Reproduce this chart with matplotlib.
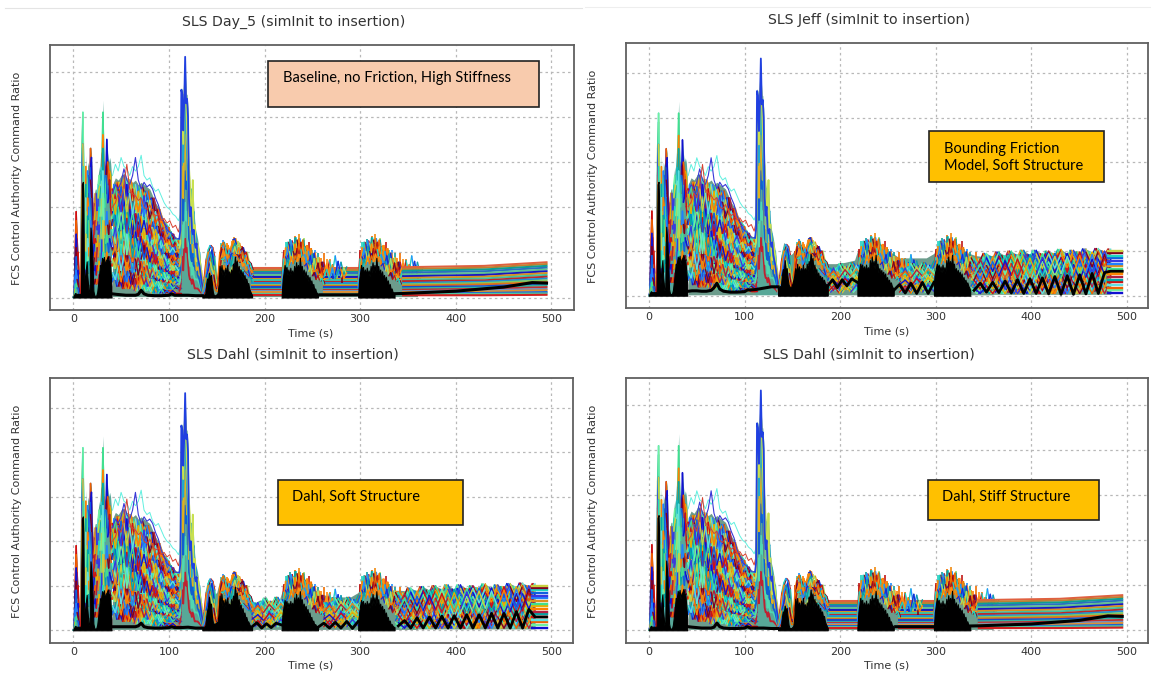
import matplotlib
matplotlib.use("Agg")
import matplotlib.pyplot as plt
from matplotlib.collections import LineCollection
from matplotlib.patches import Rectangle

# ----------------------------------------------- TEXT -------------------------------------------------#
TITLES = ["SLS Day_5 (simInit to insertion)", "SLS Jeff (simInit to insertion)",
          "SLS Dahl (simInit to insertion)", "SLS Dahl (simInit to insertion)"]
NOTES = ["Baseline, no Friction, High Stiffness", "Bounding Friction\nModel, Soft Structure",
         "Dahl, Soft Structure", "Dahl, Stiff Structure"]
X_TICKS = [0, 100, 200, 300, 400, 500]
Y_GRID = [0, 1, 2, 3, 4, 5]

RUN_COLORS = ['#1010d0', '#ff8000', '#20d8c0', '#d01010', '#2080ff', '#70f0a0', '#e8b000', '#800020',
              '#00a8a8', '#3838e0', '#f06000', '#40e090', '#c8d040', '#b02040', '#1060e0', '#60e0e0', '#e09020']
BURST_COLORS = ['#c01818', '#ff8000', '#1030d8', '#20d0c0', '#f07000', '#a8e060', '#2090ff', '#ff9010', '#800020', '#10a0a0', '#f08a10']

# ----------------------------------------------- SHARED RUNS, 0 TO 40 s -------------------------------------------------#
SPIKE_T = list(range(41))
SPIKE_TOP = [0, .1, 1.2, 2.05, 1.4, 1.0, .6, .1, .1, 3.5, 4.15, 3.0, 2.0, 3.15, 2.0, 3.0, 2.9, 2.5, 3.35, 3.2, 2.5,
             1.9, 2.3, 2.4, 2.4, 2.1, 2.7, 2.9, 2.6, 3.0, 3.5, 4.37, 3.3, 2.9, 3.0, 3.55, 3.2, 3.0, 3.1, 3.0, 2.7]
SPIKE_RUNS = [
    [0, .1, 1.1, 1.9, 1.2, .8, .4, .1, .1, 3.3, 3.9, 2.6, 1.5, 2.9, 1.7, 2.8, 2.3, 2.1, 3.3, 2.9, 2.2,
     1.5, 2.1, 2.3, 2.2, 1.8, 2.5, 2.7, 2.2, 2.8, 3.2, 4.1, 3.0, 2.2, 2.7, 3.5, 2.9, 2.5, 2.8, 2.7, 2.4],
    [0, .05, .9, 1.7, 1.3, .7, .3, .1, .1, 3.0, 4.1, 2.8, 1.2, 2.5, 1.3, 2.6, 2.7, 1.7, 2.9, 3.1, 1.8,
     1.2, 1.7, 2.0, 2.3, 1.5, 2.2, 2.4, 2.5, 2.5, 2.9, 3.6, 2.7, 2.7, 2.3, 2.9, 3.0, 2.8, 2.4, 2.3, 2.2],
    [0, .05, .7, 1.4, .9, 1.0, .5, .05, .1, 2.7, 3.4, 2.0, 1.0, 2.2, 1.6, 2.2, 2.0, 1.4, 2.6, 2.3, 1.5,
     1.6, 1.4, 1.7, 1.6, 1.9, 1.7, 2.0, 1.8, 2.0, 2.6, 3.3, 2.2, 2.0, 2.7, 2.5, 2.1, 2.2, 2.6, 2.0, 1.8],
    [0, .05, .5, 1.1, .7, .5, .2, .05, .05, 2.3, 2.9, 1.7, .7, 1.9, 1.0, 1.8, 1.7, 1.0, 2.2, 1.8, 1.2,
     .9, 1.2, 1.3, 1.2, 1.0, 1.4, 1.6, 1.3, 1.5, 2.2, 2.8, 1.7, 1.4, 1.6, 1.9, 1.6, 1.4, 1.7, 1.6, 1.5],
    [0, .03, .3, .9, .5, .6, .1, .05, .05, 1.8, 2.4, 1.3, .5, 1.4, .8, 1.3, 1.1, .7, 1.7, 1.3, .8,
     .6, .9, 1.0, .8, 1.1, .9, 1.2, 1.0, 1.1, 1.8, 2.3, 1.3, 1.0, 1.2, 1.4, 1.2, 1.0, 1.3, 1.2, 1.1],
    [0, .03, .2, .6, .4, .3, .1, .03, .05, 1.3, 1.8, .9, .3, 1.0, .5, .9, .8, .5, 1.2, .9, .5,
     .4, .6, .7, .5, .7, .6, .8, .7, .7, 1.3, 1.7, .9, .7, .8, 1.0, .8, .7, .9, .8, .8],
    [0, .02, .1, .3, .2, .2, .05, .02, .03, .8, 1.2, .5, .2, .6, .3, .5, .5, .3, .7, .5, .3,
     .2, .3, .4, .3, .4, .3, .5, .4, .4, .8, 1.0, .5, .4, .5, .6, .5, .4, .5, .5, .4],
]

# ----------------------------------------------- SHARED RUNS, 41 TO 113 s -------------------------------------------------#
DECAY_T = [41, 44, 47, 50, 53, 56, 59, 62, 65, 68, 71, 74, 77, 80, 83, 86, 89, 92, 95, 98, 101, 104, 107, 110, 113]
DECAY_T_B = [40.5, 42.5, 45.5, 48, 51.5, 54, 57.5, 60, 63.5, 66, 69.5, 72, 75.5, 78, 81.5, 84, 87.5, 90, 93.5, 96, 99.5, 102, 105.5, 108, 112]
DECAY_T_C = [40, 43, 46, 49, 52, 55, 57, 61, 64, 67, 70, 73, 76, 79, 82, 85, 88, 91, 94, 97, 100, 103, 106, 109, 111]
DECAY_T_D = [41.5, 45, 48.5, 51, 54.5, 58, 60.5, 64, 66.5, 70, 72.5, 76, 78.5, 82, 84.5, 88, 90.5, 94, 96.5, 100, 102.5, 105, 108.5, 111, 112.5]
DECAY_TOP = [2.5, 2.65, 2.6, 2.7, 2.75, 2.65, 2.6, 2.55, 2.6, 2.5, 2.55, 2.5, 2.45, 2.4, 2.25, 2.1, 2.0,
             1.85, 1.7, 1.6, 1.5, 1.4, 1.35, 1.3, 1.3]
OUTLIER_CYAN = [2.7, 2.95, 2.8, 3.1, 2.9, 2.85, 2.7, 2.9, 2.8, 2.9, 3.15, 2.7, 2.6, 2.65, 2.45, 2.35, 2.4,
                2.25, 2.1, 2.0, 1.95, 1.85, 1.8, 1.7, 1.9]
OUTLIER_BLUE = [2.3, 2.5, 2.4, 2.55, 2.85, 2.6, 2.5, 2.7, 3.1, 2.6, 2.4, 2.55, 2.45, 2.5, 2.4, 2.2, 2.05,
                1.8, 1.65, 1.5, 1.45, 1.4, 1.3, 1.3, 1.35]
OUTLIER_RED = [2.0, 2.1, 2.3, 2.2, 2.5, 2.95, 2.4, 2.3, 2.25, 2.15, 2.2, 2.0, 1.95, 2.05, 1.9, 1.8, 1.85,
               1.7, 1.75, 1.65, 1.7, 1.55, 1.6, 1.45, 1.75]
DECAY_RUNS = [
    [2.4, 2.2, 2.55, 2.3, 2.7, 2.25, 2.6, 2.15, 2.5, 2.1, 2.45, 2.2, 2.35, 2.0, 2.2, 1.85, 1.95, 1.7, 1.65, 1.55, 1.4, 1.35, 1.25, 1.3, 1.2],
    [.7, .9, .55, .85, .5, .8, .5, .75, .45, .7, .45, .6, .4, .55, .4, .5, .35, .45, .35, .4, .3, .4, .3, .35, .3],
    [1.9, 1.7, 2.2, 1.75, 2.25, 1.7, 2.2, 1.65, 2.1, 1.7, 2.0, 1.55, 1.9, 1.5, 1.8, 1.4, 1.6, 1.3, 1.45, 1.2, 1.3, 1.1, 1.2, 1.0, 1.1],
    [1.1, .9, 1.3, .85, 1.25, .8, 1.2, .8, 1.1, .75, 1.0, .7, .95, .65, .85, .6, .8, .55, .7, .55, .65, .5, .6, .5, .55],
    [1.6, 1.9, 1.35, 1.8, 1.3, 1.75, 1.3, 1.7, 1.25, 1.6, 1.2, 1.5, 1.15, 1.4, 1.05, 1.3, 1.0, 1.15, .9, 1.05, .85, .95, .8, .9, .85],
    [.35, .5, .25, .45, .2, .4, .2, .35, .15, .35, .15, .3, .15, .25, .1, .25, .1, .2, .1, .15, .1, .15, .1, .1, .1],
    [2.1, 2.5, 1.95, 2.45, 2.0, 2.5, 1.9, 2.4, 1.95, 2.35, 1.85, 2.25, 1.8, 2.15, 1.7, 1.9, 1.6, 1.7, 1.5, 1.55, 1.3, 1.4, 1.15, 1.25, 1.1],
    [.95, 1.15, .75, 1.05, .7, 1.0, .65, .95, .65, .9, .6, .8, .55, .75, .5, .7, .5, .6, .45, .55, .4, .5, .4, .45, .4],
    [2.2, 1.6, 2.0, 1.5, 2.0, 1.45, 1.95, 1.4, 1.85, 1.35, 1.8, 1.3, 1.65, 1.25, 1.55, 1.2, 1.4, 1.1, 1.25, 1.0, 1.15, .95, 1.05, .9, 1.0],
    [.55, .4, .7, .35, .65, .35, .6, .3, .55, .3, .5, .3, .45, .25, .4, .25, .35, .2, .3, .2, .3, .2, .25, .2, .2],
    [1.5, 1.2, 1.65, 1.2, 1.6, 1.15, 1.55, 1.1, 1.45, 1.05, 1.35, 1.0, 1.25, .95, 1.15, .85, 1.05, .8, .95, .75, .85, .7, .8, .7, .75],
    [.85, .65, 1.0, .6, .95, .6, .9, .55, .85, .5, .8, .5, .7, .45, .65, .45, .6, .4, .55, .35, .5, .35, .45, .35, .45],
    [1.75, 2.05, 1.55, 1.95, 1.6, 2.05, 1.55, 1.9, 1.5, 1.85, 1.45, 1.7, 1.4, 1.6, 1.3, 1.5, 1.2, 1.35, 1.15, 1.2, 1.0, 1.1, 1.0, 1.05, .95],
    [1.25, 1.55, 1.05, 1.45, 1.0, 1.4, .95, 1.3, .9, 1.25, .85, 1.15, .85, 1.05, .75, .95, .7, .85, .65, .8, .6, .7, .6, .65, .6],
    [1.35, 1.05, 1.45, .95, 1.5, .95, 1.4, .9, 1.3, .9, 1.2, .85, 1.1, .8, 1.0, .75, .9, .7, .85, .65, .75, .6, .7, .6, .65],
    [2.3, 1.85, 2.35, 1.9, 2.4, 1.9, 2.3, 1.85, 2.2, 1.9, 2.2, 1.8, 2.1, 1.75, 1.95, 1.65, 1.75, 1.5, 1.55, 1.35, 1.45, 1.2, 1.3, 1.15, 1.2],
]

# ----------------------------------------------- SHARED RUNS, 111 TO 136 s -------------------------------------------------#
PEAK_T = [111, 112, 113, 114, 115, 116, 117, 118, 119, 120, 121, 122, 123, 124, 125, 126, 127, 128, 129, 130, 132, 134, 136]
PEAK_TOP = [1.6, 1.9, 4.65, 4.6, 4.0, 4.5, 5.33, 4.5, 4.5, 4.2, 3.0, 2.5, 2.4, 2.0, 2.6, 2.0, 1.7, 1.5, 1.4, 1.3, 1.0, .6, .15]
PEAK_RUNS = [
    [1.3, 1.5, 4.6, 4.5, 3.7, 4.3, 5.33, 4.3, 4.4, 4.0, 2.2, 1.8, 2.0, 1.5, 1.4, 1.5, 1.2, 1.1, 1.2, .9, .7, .4, .1],
    [1.1, 1.2, 3.8, 4.4, 3.4, 4.5, 4.8, 4.5, 3.7, 3.1, 2.9, 2.5, 1.5, 2.0, 2.6, 1.2, 1.6, 1.0, .8, 1.2, .9, .5, .1],
    [.9, 1.0, 3.0, 3.6, 3.0, 3.8, 4.2, 3.8, 3.2, 2.5, 2.3, 1.6, 2.4, 1.2, 1.8, 1.9, .9, 1.4, 1.0, .7, 1.0, .3, .1],
    [.7, .8, 2.5, 2.9, 2.2, 3.3, 3.6, 3.0, 2.6, 3.4, 1.6, 2.0, 1.2, 1.6, 1.0, 1.0, 1.2, .8, .6, .9, .5, .6, .1],
    [.5, .6, 1.8, 2.3, 1.7, 2.6, 2.8, 2.4, 2.9, 2.0, 1.3, 1.2, .9, .8, 1.2, .7, .7, .6, .8, .5, .4, .2, .05],
    [.3, .4, 1.2, 1.6, 1.1, 1.8, 2.1, 1.7, 1.9, 1.4, .9, .7, .8, .5, .7, .5, .4, .4, .4, .4, .3, .15, .05],
    [.15, .2, .7, .9, .6, 1.1, 1.3, 1.0, 1.1, .8, .5, .4, .4, .3, .4, .3, .2, .2, .2, .2, .15, .1, .03],
]
PEAK_COLORS = ['#2040e0', '#c8e050', '#20a8d0', '#e0b020', '#1060d0', '#50d8b0', '#c02030']

# ----------------------------------------------- BURSTS -------------------------------------------------#
BURST_A_T = [135, 137, 139, 141, 143, 145, 147, 149, 151, 153, 155, 157, 159, 161, 163, 165, 167, 169, 171, 173, 175, 177, 179, 181, 183, 185, 187]
BURST_A_T_B = [136, 138, 140, 142, 144, 146, 148, 150, 152, 154, 156, 158, 160, 162, 164, 166, 168, 170, 172, 174, 176, 178, 180, 182, 184, 186, 188]
BURST_A_RUNS = [
    [.1, .45, .85, 1.05, 1.15, 1.1, .9, .45, .35, .95, 1.15, 1.22, 1.05, 1.15, 1.0, 1.12, 1.28, 1.3, 1.15, 1.2, 1.05, 1.1, .95, 1.0, .8, .75, .62],
    [.1, .3, .75, 1.0, .9, 1.05, .7, .4, .25, .7, 1.1, 1.0, 1.12, .9, 1.05, .9, 1.1, 1.2, 1.0, 1.1, .9, 1.0, .8, .88, .68, .62, .55],
    [.05, .35, .5, .85, 1.0, .8, .6, .25, .3, .8, .9, 1.05, .8, .95, .75, .95, 1.0, 1.12, .95, .9, .95, .8, .85, .7, .72, .5, .5],
    [.05, .2, .45, .6, .8, .62, .5, .2, .2, .55, .85, .85, .9, .7, .85, .7, .95, .95, .92, .8, .85, .7, .75, .6, .6, .45, .42],
    [.05, .15, .3, .5, .55, .45, .3, .15, .15, .4, .6, .7, .6, .6, .55, .6, .7, .75, .7, .65, .6, .6, .55, .5, .45, .45, .35],
]
BURST_A_SPIKE_T = [153, 155, 157, 159, 161, 164, 166, 168, 170, 172, 174, 176, 178, 180, 182, 184]
BURST_A_SPIKE_TOP = [1.0, 1.2, 1.27, 1.12, 1.2, 1.1, 1.25, 1.33, 1.22, 1.25, 1.12, 1.15, 1.05, 1.02, .9, .8]
BURST_B_T = list(range(218, 264, 2))
BURST_B_T_B = list(range(219, 265, 2))
BURST_B_RUNS = [
    [.4, 1.0, .85, 1.22, .95, 1.25, 1.0, 1.32, 1.05, 1.3, 1.05, 1.27, .95, 1.15, .85, 1.08, .78, .98, .72, .88, .62, .78, .55],
    [.35, .75, 1.1, .95, 1.18, .9, 1.2, 1.0, 1.27, 1.0, 1.22, .95, 1.12, .82, 1.02, .76, .96, .66, .86, .6, .76, .5, .6],
    [.3, .85, .8, 1.08, .85, 1.12, .88, 1.18, .9, 1.18, .95, 1.12, .85, 1.02, .75, .92, .62, .86, .58, .76, .5, .66, .48],
    [.25, .55, .9, .8, 1.02, .8, 1.02, .85, 1.08, .9, 1.06, .85, .95, .78, .8, .68, .72, .55, .62, .48, .52, .42, .42],
    [.2, .6, .65, .85, .72, .9, .75, .92, .8, .95, .8, .9, .7, .75, .58, .7, .48, .55, .4, .48, .36, .42, .3],
]
BURST_B_SPIKE_T = [220, 222, 224, 227, 229, 232, 234, 236, 239, 241, 244, 247, 250, 253, 256, 259, 262, 265, 268, 272, 276, 281]
BURST_B_SPIKE_TOP = [1.05, 1.22, 1.15, 1.3, 1.2, 1.36, 1.25, 1.4, 1.22, 1.32, 1.15, 1.22, 1.05, 1.05, .98, .88, .98, .85, .85, .75, .78, .68]
BURST_TRAIL_T = [262, 265, 268, 271, 274, 277, 280, 283, 286]
BURST_TRAIL_RUNS = [
    [.78, .5, .82, .55, .92, .5, .78, .52, .68],
    [.55, .75, .45, .72, .5, .8, .45, .66, .5],
    [.45, .62, .4, .65, .42, .6, .62, .42, .55],
]
BURST_SECOND_SHIFT = 80

# ----------------------------------------------- FILL TOPS AFTER 135 s -------------------------------------------------#
MID_T = [135, 138, 141, 144, 147, 150, 153, 156, 160, 165, 170, 175, 180, 185, 188, 195, 205, 215, 218, 221, 225, 232, 240,
         248, 255, 262, 270, 280, 290, 298, 301, 305, 312, 320, 328, 335, 342, 350, 360]
MID_TOP_STIFF = [.1, .55, 1.0, 1.0, .8, .4, .9, 1.1, 1.05, 1.05, 1.15, 1.05, .95, .65, .62, .62, .62, .62, .6, 1.0, 1.1, 1.15, 1.15,
                 1.0, .85, .7, .65, .62, .62, .62, 1.0, 1.1, 1.15, 1.1, .95, .85, .7, .67, .67]
MID_TOP_JEFF = [.3, .9, 1.2, 1.1, .9, .95, 1.05, 1.15, 1.05, 1.05, 1.2, 1.05, .9, .75, .72, .72, .75, .8, 1.0, 1.1, 1.15, 1.2, 1.2,
                1.05, .95, .85, .85, .85, .85, .95, 1.1, 1.15, 1.15, 1.15, 1.0, .95, .9, .88, .88]
MID_TOP_DAHL_SOFT = [.15, .75, 1.15, 1.05, .8, .85, 1.1, 1.2, 1.0, 1.05, 1.25, 1.1, .95, .65, .6, .68, .65, .65, .85, 1.05, 1.1, 1.15, 1.15,
                     1.0, .85, .8, .75, .75, .75, .85, 1.1, 1.15, 1.2, 1.15, 1.0, .9, .9, .88, .88]

# ----------------------------------------------- BLACK RUN -------------------------------------------------#
BLACK_T = [0, 1, 2, 3, 5, 7, 8, 8.5, 9, 10, 10.5, 11, 12, 13, 14, 15, 16, 17, 17.5, 18, 19, 20, 21, 22, 24, 25, 26, 27, 28,
           29, 30, 31, 32, 33, 34, 35, 36, 37, 38, 39, 40]
BLACK_TOP = [.02, .06, .1, .08, .08, .08, .08, 1.5, 2.5, 2.56, 2.2, .7, .25, .6, .8, .4, .12, .15, 1.1, 1.55, 1.3, .8, .15, .04, .04,
             .12, .3, .5, .72, .7, .88, .8, .9, .7, .82, .85, .92, .82, .8, .55, .25]
LOW_T = [41, 45, 50, 55, 60, 65, 68, 71, 74, 78, 85, 92, 100, 103, 106, 112, 120, 128, 135]
LOW_STIFF = [.08, .07, .06, .05, .05, .05, .07, .16, .08, .05, .04, .04, .05, .08, .05, .05, .05, .04, .04]
LOW_JEFF = [.1, .11, .11, .1, .1, .12, .18, .28, .15, .1, .08, .08, .09, .13, .13, .14, .17, .2, .2]
LOW_DAHL_SOFT = [.08, .08, .08, .08, .08, .08, .1, .16, .08, .06, .05, .05, .06, .08, .06, .06, .07, .05, .05]

BLACK_A_T = [135, 138, 139, 140, 141, 142, 143, 144, 145, 146, 147, 149, 151, 152, 153, 154, 155, 156, 157, 158, 159, 160, 161, 162, 163, 164,
             165, 166, 167, 168, 169, 170, 171, 172, 173, 174, 175, 176, 177, 178, 179, 180, 181, 182, 183, 184, 185, 187]
BLACK_A_STIFF = [.04, .08, .3, .42, .4, .55, .42, .5, .3, .12, .05, .05, .1, .3, .7, .55, .72, .5, .62, .45, .66, .5, .72, .48, .58, .44,
                 .62, .5, .75, .6, .9, .7, .82, .55, .7, .5, .62, .45, .58, .4, .5, .36, .42, .3, .32, .2, .14, .05]
BLACK_A_JEFF = [.2, .22, .45, .6, .5, .8, .55, .62, .4, .25, .2, .2, .35, .45, .62, .5, .72, .5, .66, .45, .62, .48, .7, .5, .62, .5,
                .72, .55, .78, .62, .95, .72, .85, .58, .7, .5, .6, .42, .52, .4, .45, .36, .42, .3, .36, .28, .26, .22]
BLACK_A_DAHL_SOFT = [.05, .1, .3, .45, .55, .75, .55, .6, .32, .18, .14, .16, .2, .4, .78, .6, .82, .55, .68, .5, .7, .52, .74, .5, .6, .5,
                     .7, .55, .78, .65, .98, .75, .85, .6, .7, .48, .58, .4, .5, .34, .4, .28, .3, .2, .2, .14, .1, .08]
BLACK_B_T = [218, 219, 220, 221, 222, 223, 224, 225, 226, 227, 228, 229, 230, 231, 232, 233, 234, 235, 236, 237, 238, 239, 240, 241, 242,
             243, 244, 245, 246, 247, 248, 249, 250, 251, 252, 253, 254, 255, 256]
BLACK_B_STIFF = [.06, .4, .55, .72, .6, .68, .5, .62, .48, .66, .5, .6, .46, .7, .55, .78, .6, .72, .55, .88, .62, .7, .5, .62, .45,
                 .58, .42, .5, .36, .46, .3, .38, .24, .3, .18, .2, .12, .1, .07]
BLACK_B_JEFF = [.28, .5, .6, .72, .62, .7, .55, .66, .52, .7, .55, .64, .5, .8, .6, .88, .65, .78, .6, .92, .65, .72, .52, .62, .48,
                .58, .45, .54, .4, .5, .34, .42, .3, .36, .26, .3, .22, .18, .12]
BLACK_B_DAHL_SOFT = [.15, .4, .55, .68, .58, .66, .5, .62, .5, .66, .52, .62, .5, .74, .55, .82, .6, .74, .55, .88, .62, .7, .5, .6, .45,
                     .55, .4, .48, .32, .4, .26, .3, .18, .22, .12, .14, .1, .08, .07]
GAP_BLACK_T = [187, 192, 197, 202, 207, 212, 218]
GAP_BLACK_JEFF = [.22, .36, .18, .36, .22, .38, .3]
GAP_BLACK_DAHL = [.08, .17, .05, .15, .06, .16, .12]
GAP2_BLACK_T = [256, 262, 268, 274, 280, 286, 292, 298]
GAP2_BLACK_JEFF = [.12, .25, .06, .28, .05, .3, .05, .3]
GAP2_BLACK_DAHL = [.07, .16, .05, .18, .05, .2, .04, .2]
BLACK_TAIL_T = [258, 298, 299, 345, 400, 450, 480, 495]
BLACK_TAIL_DAY5 = [.06, .06, .06, .09, .14, .23, .33, .32]
BLACK_TAIL_STIFF = [.08, .08, .08, .1, .14, .22, .32, .31]

# ----------------------------------------------- SOFT STRUCTURE OSCILLATION -------------------------------------------------#
GAP_T = [0, 6, 12, 18, 24, 30, 36]
GAP_T_B = [3, 9, 15, 21, 27, 33, 38]
GAP_T_C = [1.5, 7.5, 13.5, 19.5, 25.5, 31.5, 37]
GAP_STARTS = [187, 262]
GAP_RUNS = [
    [.62, .45, .72, .48, .74, .5, .78],
    [.35, .62, .32, .65, .38, .68, .42],
    [.5, .28, .55, .3, .58, .32, .6],
    [.18, .45, .15, .42, .2, .45, .22],
    [.3, .12, .35, .14, .38, .14, .35],
    [.08, .22, .06, .25, .08, .24, .1],
    [.42, .55, .4, .58, .44, .6, .46],
    [.25, .35, .22, .38, .26, .4, .28],
]
ZIG_T = [340, 346.5, 353, 359.5, 366, 372.5, 379, 385.5, 392, 398.5, 405, 411.5, 418, 424.5, 431, 437.5, 444, 450.5, 457, 463.5, 470, 476.5, 483]
ZIG_T_B = [337, 343, 349.5, 356, 362.5, 369, 375.5, 382, 388.5, 395, 401.5, 408, 414.5, 421, 427.5, 434, 440.5, 447, 453.5, 460, 466.5, 473, 480]
ZIG_T_C = [338.5, 344.5, 351, 357.5, 364, 370.5, 377, 383.5, 390, 396.5, 403, 409.5, 416, 422.5, 429, 435.5, 442, 448.5, 455, 461.5, 468, 474.5, 481]
ZIG_RUNS = [
    [.85, .6, .95, .65, .98, .68, 1.0, .68, 1.02, .7, 1.02, .7, 1.0, .72, 1.04, .72, 1.02, .74, 1.05, .72, 1.06, .75, 1.05],
    [.22, .45, .2, .5, .2, .52, .22, .54, .22, .55, .24, .56, .24, .58, .25, .6, .26, .6, .26, .62, .28, .64, .28],
    [.7, .45, .78, .45, .8, .48, .82, .48, .84, .5, .84, .5, .85, .52, .86, .52, .88, .54, .9, .54, .9, .55, .9],
    [.1, .28, .08, .3, .08, .32, .08, .34, .08, .35, .08, .36, .1, .38, .1, .38, .1, .4, .1, .4, .1, .42, .1],
    [.55, .82, .5, .88, .52, .9, .55, .92, .55, .92, .58, .94, .6, .95, .58, .95, .6, .98, .6, .98, .62, 1.0, .62],
    [.35, .15, .4, .15, .42, .15, .44, .16, .45, .16, .46, .18, .48, .18, .48, .18, .5, .2, .5, .2, .52, .2, .52],
    [.5, .28, .58, .28, .6, .3, .62, .3, .64, .32, .66, .32, .66, .34, .68, .34, .7, .36, .7, .36, .72, .38, .72],
    [.18, .05, .22, .05, .24, .05, .26, .05, .26, .05, .28, .05, .28, .05, .3, .05, .3, .05, .3, .05, .32, .05, .32],
    [.35, .65, .32, .7, .35, .72, .36, .74, .38, .75, .38, .76, .4, .78, .4, .8, .42, .8, .42, .82, .44, .84, .45],
    [.78, .52, .85, .55, .88, .58, .9, .6, .92, .62, .94, .62, .94, .62, .95, .64, .96, .65, .98, .65, 1.0, .66, 1.0],
    [.62, .38, .68, .38, .7, .4, .72, .4, .74, .42, .76, .44, .76, .44, .78, .44, .8, .46, .82, .46, .82, .48, .82],
    [.45, .7, .42, .76, .45, .78, .46, .82, .48, .84, .48, .86, .5, .88, .5, .88, .52, .9, .52, .92, .52, .92, .55],
]
ZIG_TOP = [.85, .82, .95, .88, .98, .9, 1.0, .92, 1.02, .92, 1.02, .94, 1.0, .95, 1.04, .95, 1.02, .98, 1.05, .98, 1.06, 1.0, 1.05]
ZIG_BLACK_JEFF = [.12, .28, .08, .3, .07, .33, .06, .36, .05, .38, .05, .4, .04, .43, .03, .45, .03, .47, .04, .5, .05, .52, .55]
ZIG_BLACK_DAHL = [.1, .22, .05, .28, .05, .3, .05, .32, .05, .33, .05, .35, .05, .35, .05, .38, .05, .38, .05, .42, .05, .47, .3]
ZIG_END_LEVELS = [.06, .12, .18, .24, .3, .36, .42, .48, .54, .6, .66, .72, .78, .84, .9, .96, 1.0]

# ----------------------------------------------- STIFF STRUCTURE STRIPES -------------------------------------------------#
STRIPE_T = [345, 430, 495]
STRIPE_LEVELS = [
    [.67, .7, .78], [.63, .66, .74], [.59, .62, .7], [.55, .58, .66], [.51, .54, .62], [.47, .5, .58], [.43, .46, .54],
    [.39, .42, .5], [.36, .38, .46], [.32, .35, .42], [.29, .32, .38], [.26, .29, .34], [.23, .25, .3], [.2, .22, .27],
    [.17, .19, .23], [.14, .16, .19], [.12, .13, .16], [.09, .1, .12], [.07, .08, .09], [.05, .05, .06],
]
STRIPE_COLORS = ['#e06040', '#c08030', '#0f9f8f', '#2a70c0', '#60c090', '#1818c0', '#d89020', '#40c0a0', '#c02828',
                 '#2090d0', '#80c860', '#e07018', '#1848c8', '#30b0a0', '#c03030', '#7090c0', '#e09030', '#2060d0', '#50c8a0', '#d02020']
GAP_STRIPE_SPANS = [[187, 218], [262, 298]]

# ----------------------------------------------- LAYOUT (pixels of the 1151x677 picture) -------------------------------------------------#
W, H = 1151, 677
AX_BOX = [(50, 44.5, 573.5, 310), (625.7, 42.7, 1148.3, 308), (50, 377.7, 573, 643.3), (625.7, 377.7, 1148.3, 642.7)]
Y_ZERO = [297.5, 295.7, 630.3, 630.3]
Y_SCALE = [45.16, 44.5, 44.5, 45.0]
X_ZERO = [73.3, 649, 73.3, 649]
X_SCALE = 0.956
TITLE_XY = [(294, 22), (869, 20), (293, 355), (869, 355)]
YLABEL_XY = [(17, 178), (593, 176), (17, 511), (593, 511)]
XLABEL_XY = [(311, 333), (887, 331), (311, 666), (887, 666)]
NOTE_BOX = [(268, 60.5, 539, 106.5), (929, 131, 1104, 181.7), (278, 480, 463, 525), (928, 480, 1099, 520)]
NOTE_XY = [(283, 78), (944, 157.5), (292, 497), (942, 496.5)]
NOTE_COLOR = ['#f8cbad', '#ffc000', '#ffc000', '#ffc000']
FONT_GREY = '#333333'


def fx(px):
    return px / W


def fy(py):
    return 1 - py / H


def drawRuns(ax, t, runs, colors=RUN_COLORS, lw=1.0, offset=0, shift=0):
    """Plot a family of runs, colour changes along each run so no band stands out"""
    segs, cols = [], []
    for i, run in enumerate(runs):
        for j in range(len(run) - 1):
            segs.append([(t[j] + shift, run[j]), (t[j + 1] + shift, run[j + 1])])
            cols.append(colors[(i * 7 + (j // 2) * 3 + offset) % len(colors)])
    ax.add_collection(LineCollection(segs, colors=cols, linewidths=lw, zorder=3, capstyle='round'))


def drawSpikes(ax, t, top, shift=0):
    cols = [BURST_COLORS[(i * 3) % len(BURST_COLORS)] for i in range(len(t))]
    ax.vlines([v + shift for v in t], [v - 0.35 for v in top], top, colors=cols, lw=1.2, zorder=2.9)


def drawCommon(ax):
    ax.fill_between(SPIKE_T, 0.02, SPIKE_TOP, color='#58a898', lw=0, zorder=2)
    ax.fill_between(DECAY_T, 0.02, DECAY_TOP, color='#6c9c8c', lw=0, zorder=2)
    ax.fill_between(PEAK_T, 0.02, PEAK_TOP, color='#58a898', lw=0, zorder=2)
    drawRuns(ax, SPIKE_T, SPIKE_RUNS, lw=1.1)
    drawRuns(ax, DECAY_T_D, DECAY_RUNS, lw=1.0, offset=9)
    drawRuns(ax, DECAY_T_C, DECAY_RUNS, lw=1.0, offset=6)
    drawRuns(ax, DECAY_T_B, DECAY_RUNS, lw=1.0, offset=13)
    drawRuns(ax, DECAY_T, DECAY_RUNS, lw=1.0, offset=3)
    ax.plot(DECAY_T, OUTLIER_CYAN, color='#60f0e0', lw=0.7, zorder=3)
    ax.plot(DECAY_T, OUTLIER_BLUE, color='#3838d8', lw=0.8, zorder=3)
    ax.plot(DECAY_T, OUTLIER_RED, color='#d84030', lw=0.7, zorder=3)
    # top run last so the blue peak stays on top
    for i in range(len(PEAK_RUNS) - 1, -1, -1):
        ax.plot(PEAK_T, PEAK_RUNS[i], color=PEAK_COLORS[i], lw=1.3, zorder=3)
    ax.fill_between(BLACK_T, 0.0, BLACK_TOP, color='black', lw=0.8, zorder=5)


def drawBursts(ax, mid_top):
    ax.fill_between(MID_T, 0.02, mid_top, color='#6c9c8c', lw=0, zorder=2)
    ax.fill_between(BURST_A_T, BURST_A_RUNS[3], BURST_A_RUNS[1], color='#f08a10', lw=0, zorder=2.5)
    ax.fill_between(BURST_B_T, BURST_B_RUNS[3], BURST_B_RUNS[1], color='#f08a10', lw=0, zorder=2.5)
    ax.fill_between([v + BURST_SECOND_SHIFT for v in BURST_B_T], BURST_B_RUNS[3], BURST_B_RUNS[1], color='#f08a10', lw=0, zorder=2.5)
    drawSpikes(ax, BURST_A_SPIKE_T, BURST_A_SPIKE_TOP)
    drawRuns(ax, BURST_A_T_B, BURST_A_RUNS, colors=BURST_COLORS, lw=1.0, offset=5)
    drawRuns(ax, BURST_A_T, BURST_A_RUNS, colors=BURST_COLORS, lw=1.0)
    for shift in [0, BURST_SECOND_SHIFT]:
        drawSpikes(ax, BURST_B_SPIKE_T, BURST_B_SPIKE_TOP, shift=shift)
        drawRuns(ax, BURST_B_T_B, BURST_B_RUNS, colors=BURST_COLORS, lw=1.0, offset=5, shift=shift)
        drawRuns(ax, BURST_B_T, BURST_B_RUNS, colors=BURST_COLORS, lw=1.0, shift=shift)
        drawRuns(ax, BURST_TRAIL_T, BURST_TRAIL_RUNS, colors=BURST_COLORS, lw=1.0, shift=shift)


def drawStiffTail(ax):
    for i, level in enumerate(STRIPE_LEVELS):
        color = STRIPE_COLORS[i % len(STRIPE_COLORS)]
        ax.plot(STRIPE_T, level, color=color, lw=1.5, zorder=3)
        for span in GAP_STRIPE_SPANS:
            ax.plot(span, [level[0] * 0.97, level[0] * 0.97], color=color, lw=1.5, zorder=2.8)


def drawSoftTail(ax, zig_black):
    for start in GAP_STARTS:
        drawRuns(ax, [v + start for v in GAP_T_C], GAP_RUNS, lw=1.0, offset=4)
        drawRuns(ax, [v + start for v in GAP_T_B], GAP_RUNS, lw=1.0, offset=8)
        drawRuns(ax, [v + start for v in GAP_T], GAP_RUNS, lw=1.0, offset=2)
    ax.fill_between(ZIG_T, 0.03, ZIG_TOP, color='#78a088', lw=0, zorder=2)
    drawRuns(ax, ZIG_T_C, ZIG_RUNS, lw=1.0, offset=11)
    drawRuns(ax, ZIG_T_B, ZIG_RUNS, lw=1.0, offset=7)
    drawRuns(ax, ZIG_T, ZIG_RUNS, lw=1.0, offset=2)
    for i, level in enumerate(ZIG_END_LEVELS):
        ax.plot([480, 495], [level, level], color=RUN_COLORS[(i * 5) % len(RUN_COLORS)], lw=1.7, zorder=3)
    ax.plot(ZIG_T + [495], zig_black + [zig_black[-1]], color='black', lw=2.0, zorder=6)


PANEL_DATA = [
    (MID_TOP_STIFF, LOW_STIFF, BLACK_A_STIFF, BLACK_B_STIFF, BLACK_TAIL_DAY5, None, None, None),
    (MID_TOP_JEFF, LOW_JEFF, BLACK_A_JEFF, BLACK_B_JEFF, None, ZIG_BLACK_JEFF, GAP_BLACK_JEFF, GAP2_BLACK_JEFF),
    (MID_TOP_DAHL_SOFT, LOW_DAHL_SOFT, BLACK_A_DAHL_SOFT, BLACK_B_DAHL_SOFT, None, ZIG_BLACK_DAHL, GAP_BLACK_DAHL, GAP2_BLACK_DAHL),
    (MID_TOP_STIFF, LOW_STIFF, BLACK_A_STIFF, BLACK_B_STIFF, BLACK_TAIL_STIFF, None, None, None),
]

# ----------------------------------------------- FIGURE -------------------------------------------------#
fig = plt.figure(figsize=(W / 100, H / 100), dpi=100)
fig.add_artist(plt.Line2D([fx(5), fx(582)], [fy(8), fy(8)], color='#e4e4e4', lw=0.8))
fig.add_artist(plt.Line2D([fx(585), fx(1151)], [fy(7), fy(7)], color='#eeeeee', lw=0.8))

for k in range(4):
    x0, y0, x1, y1 = AX_BOX[k]
    ax = fig.add_axes([fx(x0), fy(y1), (x1 - x0) / W, (y1 - y0) / H])
    ax.set_xlim((x0 - X_ZERO[k]) / X_SCALE, (x1 - X_ZERO[k]) / X_SCALE)
    ax.set_ylim((Y_ZERO[k] - y1) / Y_SCALE[k], (Y_ZERO[k] - y0) / Y_SCALE[k])
    ax.set_xticks(X_TICKS)
    ax.set_yticks(Y_GRID)
    ax.set_yticklabels([])
    ax.tick_params(length=0, labelsize=8, labelcolor=FONT_GREY, pad=3)
    ax.grid(True, color='#b8b8b8', ls=(0, (2, 2.5)), lw=0.9, zorder=1)
    ax.set_axisbelow(True)
    for s in ax.spines.values():
        s.set_color('#606060')
        s.set_linewidth(1.3)

    mid_top, low, black_a, black_b, black_tail, zig_black, gap_black, gap2_black = PANEL_DATA[k]
    drawCommon(ax)
    drawBursts(ax, mid_top)
    if zig_black is None:
        drawStiffTail(ax)
    else:
        drawSoftTail(ax, zig_black)
        ax.plot(GAP_BLACK_T, gap_black, color='black', lw=2.0, zorder=6)
        ax.plot(GAP2_BLACK_T, gap2_black, color='black', lw=2.0, zorder=6)
    ax.plot(LOW_T, low, color='black', lw=2.2, zorder=6)
    ax.fill_between(BLACK_A_T, 0.0, black_a, color='black', lw=0.8, zorder=5)
    ax.fill_between(BLACK_B_T, 0.0, black_b, color='black', lw=0.8, zorder=5)
    ax.fill_between([v + BURST_SECOND_SHIFT for v in BLACK_B_T], 0.0, black_b, color='black', lw=0.8, zorder=5)
    if black_tail is not None:
        ax.plot(BLACK_TAIL_T, black_tail, color='black', lw=2.2, zorder=6)

    fig.text(fx(TITLE_XY[k][0]), fy(TITLE_XY[k][1]), TITLES[k], ha='center', va='center', fontsize=10.2, color=FONT_GREY)
    fig.text(fx(YLABEL_XY[k][0]), fy(YLABEL_XY[k][1]), "FCS Control Authority Command Ratio", rotation=90,
             ha='center', va='center', fontsize=8.0, color=FONT_GREY)
    fig.text(fx(XLABEL_XY[k][0]), fy(XLABEL_XY[k][1]), "Time (s)", ha='center', va='center', fontsize=8, color=FONT_GREY)

    bx0, by0, bx1, by1 = NOTE_BOX[k]
    fig.add_artist(Rectangle((fx(bx0), fy(by1)), (bx1 - bx0) / W, (by1 - by0) / H, transform=fig.transFigure,
                             facecolor=NOTE_COLOR[k], edgecolor='#222222', lw=1.2, zorder=10))
    fig.text(fx(NOTE_XY[k][0]), fy(NOTE_XY[k][1]), NOTES[k], ha='left', va='center', fontsize=10.5, family='Lato',
             color='black', linespacing=1.25, zorder=11)

fig.savefig("out.png", dpi=100)
